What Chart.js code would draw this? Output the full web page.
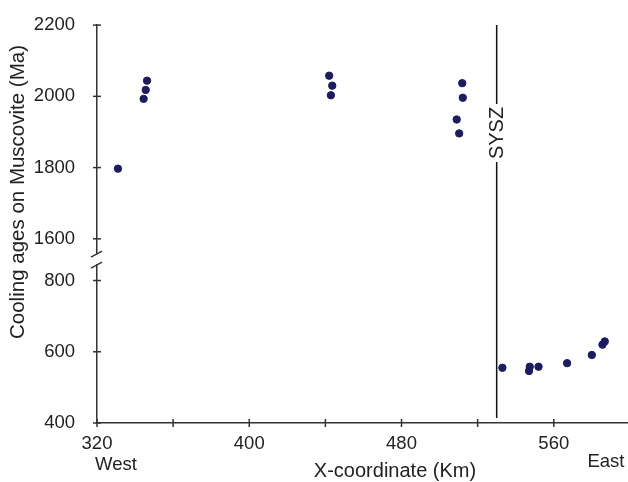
<!DOCTYPE html>
<html>
<head>
<meta charset="utf-8">
<script src="https://cdn.jsdelivr.net/npm/chart.js@4.4.0/dist/chart.umd.min.js"></script>
<style>
html, body { margin: 0; padding: 0; background: #fff; }
#wrap { width: 628px; height: 482px; }
</style>
</head>
<body>
<div id="wrap"><canvas id="chart" width="628" height="482"></canvas></div>
<script>
// samples west of the break (old ages)
const upperX = [331, 344.5, 345.6, 346.3, 442, 443.6, 442.9, 509, 510.3, 511.9, 512.2];
const upperY = [1797, 1993, 2018, 2044, 2058, 2030, 2003, 1935, 1896, 2037, 1996];
// samples east of SYSZ (young ages)
const lowerX = [533, 547.4, 547, 552, 567, 580, 585.6, 586.8];
const lowerY = [555, 558, 546, 558, 568, 591, 620, 629];

const xTicks = [320, 360, 400, 440, 480, 520, 560];
const xLabels = [320, 400, 480, 560];
const upperTicks = [1600, 1800, 2000, 2200];
const lowerTicks = [400, 600, 800];
const syszX = 530;

const ink = "#222";
const dotColor = "#1d1b62";
const font = "Liberation Sans, Arial, sans-serif";

function pts(xs, ys) {
    return xs.map((x, i) => ({ x: x, y: ys[i] }));
}

const overlay = {
    id: "overlay",
    afterDraw(chart) {
        const ctx = chart.ctx;
        const xs = chart.scales.x;
        const yu = chart.scales.yUp;
        const yl = chart.scales.yLow;
        const ax = xs.left;
        const ay = yl.bottom;

        ctx.save();
        ctx.strokeStyle = "#333";
        ctx.lineWidth = 1.5;

        // tick marks crossing the axes
        xTicks.forEach(v => {
            const p = xs.getPixelForValue(v);
            ctx.beginPath(); ctx.moveTo(p, ay - 4); ctx.lineTo(p, ay + 4); ctx.stroke();
        });
        upperTicks.forEach(v => {
            const p = yu.getPixelForValue(v);
            ctx.beginPath(); ctx.moveTo(ax - 4, p); ctx.lineTo(ax + 4, p); ctx.stroke();
        });
        lowerTicks.forEach(v => {
            const p = yl.getPixelForValue(v);
            ctx.beginPath(); ctx.moveTo(ax - 4, p); ctx.lineTo(ax + 4, p); ctx.stroke();
        });

        // axis break
        const mid = yl.top;
        ctx.fillStyle = "#fff";
        ctx.fillRect(ax - 3, mid - 5, 6, 10);
        [mid - 5, mid + 6].forEach(b => {
            ctx.beginPath(); ctx.moveTo(ax - 6, b + 3); ctx.lineTo(ax + 5, b - 3); ctx.stroke();
        });

        // SYSZ boundary
        const sx = xs.getPixelForValue(syszX);
        ctx.strokeStyle = "#111";
        ctx.beginPath(); ctx.moveTo(sx, 25); ctx.lineTo(sx, ay - 5); ctx.stroke();
        ctx.font = "20px " + font;
        ctx.fillStyle = "#fff";
        ctx.fillRect(sx - 11, 104, 22, 58);
        ctx.fillStyle = ink;
        ctx.translate(sx, 133);
        ctx.rotate(-Math.PI / 2);
        ctx.textAlign = "center";
        ctx.textBaseline = "middle";
        ctx.fillText("SYSZ", 0, 1);
        ctx.restore();

        ctx.save();
        ctx.fillStyle = ink;
        ctx.textBaseline = "middle";
        ctx.textAlign = "center";
        ctx.font = "18.5px " + font;
        ctx.fillText("West", 116, 465);
        ctx.fillText("East", 606, 462);
        ctx.font = "20px " + font;
        ctx.fillText("X-coordinate (Km)", 395, 471);
        ctx.font = "20.5px " + font;
        ctx.translate(18, 192);
        ctx.rotate(-Math.PI / 2);
        ctx.fillText("Cooling ages on Muscovite (Ma)", 0, 0);
        ctx.restore();
    }
};

const tickFont = { family: font, size: 18.5 };

new Chart(document.getElementById("chart"), {
    type: "scatter",
    data: {
        datasets: [
            { data: pts(upperX, upperY), xAxisID: "x", yAxisID: "yUp",
              backgroundColor: dotColor, borderColor: dotColor, pointRadius: 3.7 },
            { data: pts(lowerX, lowerY), xAxisID: "x", yAxisID: "yLow",
              backgroundColor: dotColor, borderColor: dotColor, pointRadius: 3.7 }
        ]
    },
    options: {
        responsive: false,
        animation: false,
        devicePixelRatio: 1,
        layout: { autoPadding: false, padding: { top: 19, right: 0, bottom: 0, left: 0 } },
        plugins: { legend: { display: false }, tooltip: { enabled: false } },
        scales: {
            x: {
                type: "linear", position: "bottom", min: 320, max: 599,
                grid: { display: false },
                border: { color: "#333", width: 1.5 },
                afterBuildTicks: s => { s.ticks = xTicks.map(v => ({ value: v })); },
                afterFit: s => { s.height = 59; },
                ticks: {
                    color: ink, font: tickFont, padding: 2, maxRotation: 0, autoSkip: false,
                    callback: v => xLabels.includes(v) ? String(v) : ""
                }
            },
            yLow: {
                type: "linear", position: "left", stack: "y", stackWeight: 460,
                min: 400, max: 860,
                grid: { display: false },
                border: { color: "#333", width: 1.5 },
                afterBuildTicks: s => { s.ticks = lowerTicks.map(v => ({ value: v })); },
                afterFit: s => { s.width = 97; },
                ticks: { color: ink, font: tickFont, padding: 14, callback: v => String(v) }
            },
            yUp: {
                type: "linear", position: "left", stack: "y", stackWeight: 657,
                min: 1543, max: 2200,
                grid: { display: false },
                border: { color: "#333", width: 1.5 },
                afterBuildTicks: s => { s.ticks = upperTicks.map(v => ({ value: v })); },
                afterFit: s => { s.width = 97; },
                ticks: { color: ink, font: tickFont, padding: 14, callback: v => String(v) }
            }
        }
    },
    plugins: [overlay]
});
</script>
</body>
</html>
